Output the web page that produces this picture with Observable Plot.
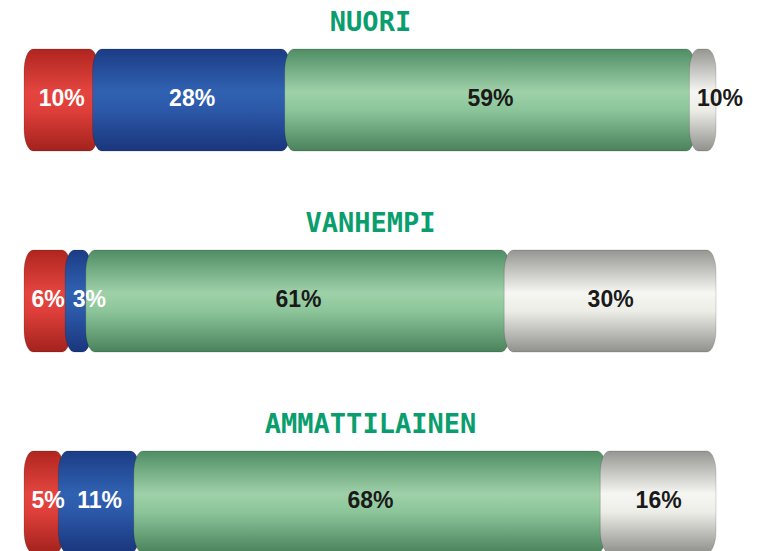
<!DOCTYPE html>
<html>
<head>
<meta charset="utf-8">
<script src="https://cdn.jsdelivr.net/npm/d3@7"></script>
<script src="https://cdn.jsdelivr.net/npm/@observablehq/plot@0.6"></script>
<style>
  html, body { margin: 0; padding: 0; background: #ffffff; overflow: hidden; }
  #chart svg { display: block; }
</style>
</head>
<body>
<div id="chart"></div>
<script>
// ---- data ----
const groups = ["NUORI", "VANHEMPI", "AMMATTILAINEN"];
const categories = ["punainen", "sininen", "vihreä", "valkoinen"];
const nuori = [10, 28, 59, 10];
const vanhempi = [6, 3, 61, 30];
const ammattilainen = [5, 11, 68, 16];
const seriesValues = [nuori, vanhempi, ammattilainen];

// gradient stops per category (top, upper-middle, lower-middle, bottom) for the cylinder look
const gradientStops = [
  ["#b0251f", "#e4453f", "#df3f3a", "#a3221d"],
  ["#1c3c85", "#3062b2", "#2c58a8", "#19367c"],
  ["#4f8d64", "#9fd1a9", "#8cc59a", "#4a825c"],
  ["#959591", "#f6f6f2", "#ededE8", "#90908c"]
];

// build rows (stacked, clamped to the 0–100 frame)
const rows = [];
groups.forEach((g, gi) => {
  let start = 0;
  seriesValues[gi].forEach((v, ci) => {
    const x2 = Math.min(start + v, 100);
    rows.push({
      group: g,
      cat: categories[ci],
      ci,
      value: v,
      x1: start,
      x2,
      mid: start + v / 2,
      narrow: (x2 - start) < 6,
      label: `${v}%`
    });
    start += v;
  });
});

const titles = groups.map(g => ({group: g, x: 50}));
const labelFont = {fontSize: 23, fontWeight: "bold", fontFamily: "Liberation Sans, Arial, sans-serif", dy: -2};

const plot = Plot.plot({
  width: 757,
  height: 551,
  marginTop: 0,
  marginBottom: 0,
  marginLeft: 27,
  marginRight: 44,
  x: {domain: [0, 100], axis: null},
  y: {domain: groups, range: [48, 553], paddingInner: 0.495, paddingOuter: 0, axis: null},
  color: {domain: categories, range: categories.map((c, i) => `url(#cyl${i})`)},
  style: {background: "white"},
  marks: [
    Plot.rectX(rows, {
      x1: "x1", x2: "x2", y: "group", fill: "cat",
      rx: 9, ry: 22, insetLeft: -3, insetRight: -3,
      stroke: "rgba(0,0,0,0.15)", strokeWidth: 1
    }),
    // centred labels
    Plot.text(rows.filter(d => d.ci < 2 && !d.narrow), {
      x: "mid", y: "group", text: "label", fill: "white", ...labelFont
    }),
    Plot.text(rows.filter(d => d.ci >= 2 && !d.narrow), {
      x: "mid", y: "group", text: "label", fill: "#1a1a1a", ...labelFont
    }),
    // labels of narrow segments start at the segment's left edge
    Plot.text(rows.filter(d => d.ci < 2 && d.narrow), {
      x: "x1", y: "group", text: "label", fill: "white", textAnchor: "start", dx: 4, ...labelFont
    }),
    Plot.text(rows.filter(d => d.ci >= 2 && d.narrow), {
      x: "x1", y: "group", text: "label", fill: "#1a1a1a", textAnchor: "start", dx: 4, ...labelFont
    }),
    Plot.text(titles, {
      x: "x", y: "group", text: "group", fill: "#0a9e6e",
      fontSize: 27, fontWeight: "bold", fontFamily: "DejaVu Sans Mono, monospace", dy: -78
    })
  ]
});

// cylinder gradients
const svg = d3.select(plot.tagName.toLowerCase() === "svg" ? plot : plot.querySelector("svg"));
const defs = svg.insert("defs", ":first-child");
gradientStops.forEach((stops, i) => {
  const lg = defs.append("linearGradient")
    .attr("id", `cyl${i}`)
    .attr("x1", 0).attr("y1", 0).attr("x2", 0).attr("y2", 1);
  [0, 0.42, 0.6, 1].forEach((o, k) => {
    lg.append("stop").attr("offset", o).attr("stop-color", stops[k]);
  });
});

document.getElementById("chart").appendChild(plot);
</script>
</body>
</html>
